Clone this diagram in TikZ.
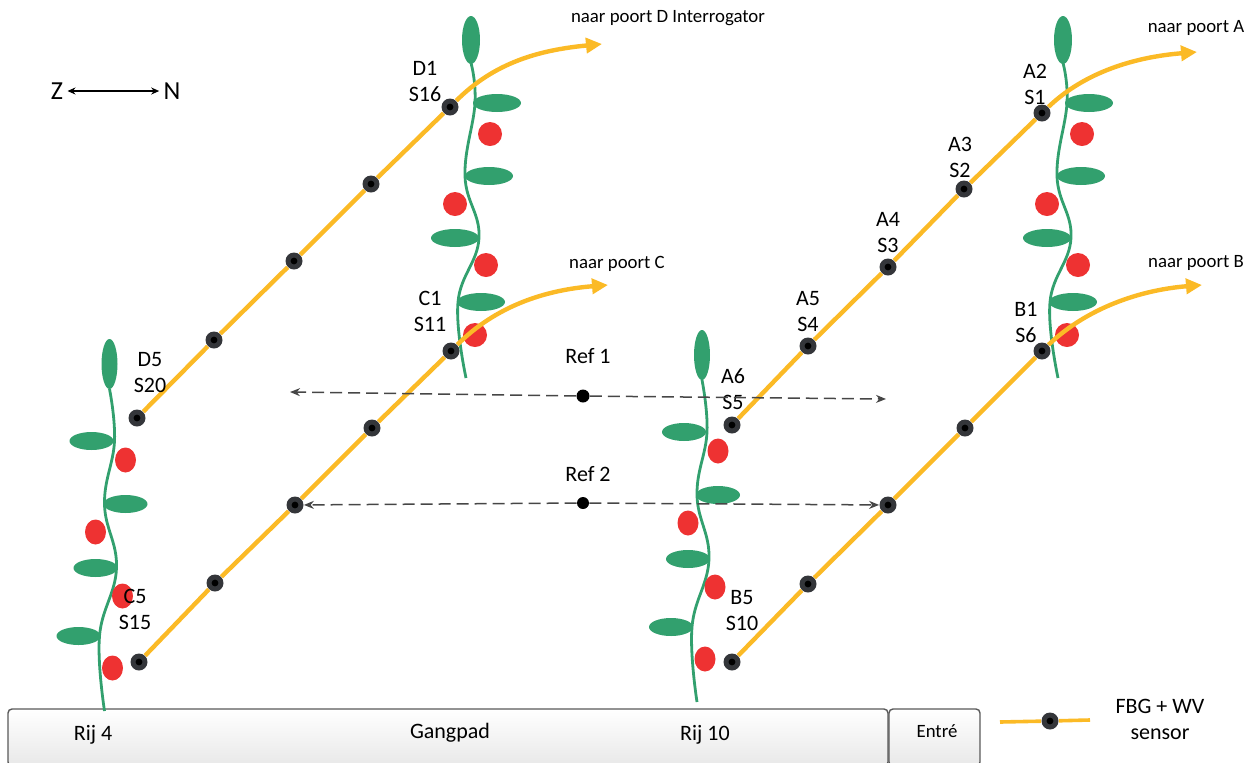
\documentclass[tikz,border=0pt]{standalone}
\usepackage{fontspec}
\setmainfont{Carlito}
\usetikzlibrary{arrows.meta, positioning}
\definecolor{fiberOrange}{RGB}{251,186,38}
\definecolor{leafGreen}{RGB}{50,160,110}
\definecolor{berryRed}{RGB}{238,50,50}
\definecolor{sensorGray}{RGB}{52,54,58}
\definecolor{refGray}{RGB}{70,70,70}

\tikzset{
	stem/.style={draw=leafGreen, line width=1.4pt},
	leaf/.style={fill=leafGreen},
	berry/.style={fill=berryRed},
	% plant in the upper rows
	plantTop/.pic={
		\draw[stem] plot[smooth, tension=0.7] coordinates
			{(0,23) (4,63) (-6,136) (8,198) (-13,262) (-5,338)};
		\fill[leaf] (0,0) ellipse [x radius=9, y radius=24];
		\fill[leaf] (26,63) ellipse [x radius=24, y radius=9];
		\fill[berry] (19,94) circle [radius=12];
		\fill[leaf] (18,136) ellipse [x radius=24, y radius=9];
		\fill[berry] (-16,164) circle [radius=12];
		\fill[leaf] (-16,198) ellipse [x radius=24, y radius=9];
		\fill[berry] (15,225) circle [radius=12];
		\fill[leaf] (10,262) ellipse [x radius=24, y radius=9];
		\fill[berry] (4,295) circle [radius=12];
	},
	% plant standing on the path
	plantLow/.pic={
		\draw[stem] plot[smooth, tension=0.7] coordinates
			{(0,25) (5,77) (-5,140) (7,204) (-10,272) (-5,347)};
		\fill[leaf] (0,0) ellipse [x radius=8, y radius=25];
		\fill[leaf] (-18,77) ellipse [x radius=22, y radius=9];
		\fill[berry] (16,96) ellipse [x radius=10.5, y radius=12.5];
		\fill[leaf] (16,140) ellipse [x radius=22, y radius=9];
		\fill[berry] (-14,168) ellipse [x radius=10.5, y radius=12.5];
		\fill[leaf] (-14,204) ellipse [x radius=22, y radius=9];
		\fill[berry] (13,232) ellipse [x radius=10.5, y radius=12.5];
		\fill[leaf] (-31,272) ellipse [x radius=22, y radius=9];
		\fill[berry] (3,304) ellipse [x radius=10.5, y radius=12.5];
	}
}

\begin{document}
\begin{tikzpicture}
	[
		x=0.5pt, y=-0.5pt,
		sensor/.style={
			circle, fill=sensorGray, inner sep=0pt, minimum size=8.5pt,
			path picture={\fill[black] (path picture bounding box.center) circle (1.7pt);}
		},
		fiber/.style={draw=fiberOrange, line width=2.2pt},
		toport/.style={fiber, -{Triangle[length=8pt, width=7.5pt]}},
		lbl/.style={align=center, font=\fontsize{11}{13}\selectfont},
		small/.style={font=\fontsize{9.4}{11}\selectfont},
		refdot/.style={circle, fill=black, inner sep=0pt, minimum size=#1},
		refline/.style={draw=refGray, line width=0.75pt, dash pattern=on 6pt off 3pt,
			-{Stealth[length=5pt, width=4pt]}},
		floor/.style={draw=gray!70!black, line width=0.7pt, rounded corners=2pt,
			top color=white, bottom color=gray!18}
	]

\useasboundingbox (0,0) rectangle (1260,762);

% Path and entrance
\draw[floor] (8,709) rectangle (888,766);
\draw[floor] (889,709) rectangle (980,766);
\node (rij4) [lbl] at (93,735) {Rij 4};
\node (gangpad) [lbl] at (450,733) {Gangpad};
\node (rij10) [lbl] at (705,735) {Rij 10};
\node (entre) [small] at (937,731) {Entré};

% Plants
\pic at (109.5,364) {plantLow};
\pic at (702,355) {plantLow};
\pic at (471,40) {plantTop};
\pic at (1063,40) {plantTop};

% Compass
\node (z) [font=\fontsize{13}{15}\selectfont, inner sep=2pt] at (57,91) {Z};
\node (n) [font=\fontsize{13}{15}\selectfont, inner sep=2pt] at (172,91) {N};
\draw [{Stealth[length=4pt, width=3.5pt]}-{Stealth[length=4pt, width=3.5pt]}, line width=1.4pt]
	(z) -- (n);

% Sensors, row D
\node (d1) [sensor] at (450,107) {};
\node (d2) [sensor] at (371,184) {};
\node (d3) [sensor] at (294,261) {};
\node (d4) [sensor] at (214,340) {};
\node (d5) [sensor] at (137,418) {};
% Sensors, row C
\node (c1) [sensor] at (451,351) {};
\node (c2) [sensor] at (372,428) {};
\node (c3) [sensor] at (295,505) {};
\node (c4) [sensor] at (215,583) {};
\node (c5) [sensor] at (139,662) {};
% Sensors, row A
\node (a2) [sensor] at (1042,113) {};
\node (a3) [sensor] at (964,189) {};
\node (a4) [sensor] at (888,267) {};
\node (a5) [sensor] at (808,346) {};
\node (a6) [sensor] at (732,425) {};
% Sensors, row B
\node (b1) [sensor] at (1042,351) {};
\node (b2) [sensor] at (965,428) {};
\node (b3) [sensor] at (888,505) {};
\node (b4) [sensor] at (808,584) {};
\node (b5) [sensor] at (732,662) {};

% Fiber ends
\coordinate (toD) at (602,44);
\coordinate (toC) at (608,285);
\coordinate (toA) at (1197,52);
\coordinate (toB) at (1202,285);

% Fibers
\draw [toport] (d5) -- (d4) -- (d3) -- (d2) -- (d1)
	.. controls (495,62) and (540,50) .. (toD);
\draw [toport] (c5) -- (c4) -- (c3) -- (c2) -- (c1)
	.. controls (496,306) and (545,290) .. (toC);
\draw [toport] (a6) -- (a5) -- (a4) -- (a3) -- (a2)
	.. controls (1085,72) and (1135,57) .. (toA);
\draw [toport] (b5) -- (b4) -- (b3) -- (b2) -- (b1)
	.. controls (1087,308) and (1140,290) .. (toB);

\node (portD) [small] at (668,18) {naar poort D Interrogator};
\node (portC) [small] at (617,264) {naar poort C};
\node (portA) [small] at (1196,28) {naar poort A};
\node (portB) [small] at (1196,263) {naar poort B};

% Sensor labels
\node (ld1) [lbl] at (425,81) {D1\\S16};
\node (ld5) [lbl] at (150,373) {D5\\S20};
\node (lc1) [lbl] at (430,311) {C1\\S11};
\node (lc5) [lbl] at (135,609) {C5\\S15};
\node (la2) [lbl] at (1035,84) {A2\\S1};
\node (la3) [lbl] at (960,157) {A3\\S2};
\node (la4) [lbl] at (888,233) {A4\\S3};
\node (la5) [lbl] at (808,312) {A5\\S4};
\node (la6) [lbl] at (733,389) {A6\\S5};
\node (lb1) [lbl] at (1026,322) {B1\\S6};
\node (lb5) [lbl] at (742,611) {B5\\S10};

% Reference sensors
\node (ref1) [refdot=6.5pt] at (583,396) {};
\node (ref2) [refdot=6pt] at (583,503) {};
\node (lref1) [lbl] at (588,356) {Ref 1};
\node (lref2) [lbl] at (588,474) {Ref 2};
\coordinate (r1w) at (290,392);
\coordinate (r1e) at (886,399);
\draw [refline] (ref1) -- (r1w);
\draw [refline] (ref1) -- (r1e);
\draw [refline] (ref2) -- (c3);
\draw [refline] (ref2) -- (b3);

% Legend
\coordinate (legw) at (1000,722);
\coordinate (lege) at (1090,720);
\node (leg) [sensor] at (1050,721) {};
\draw [fiber, line width=1.8pt] (legw) -- (leg) -- (lege);
\node (legtxt) [lbl] at (1160,719) {FBG + WV\\sensor};

\end{tikzpicture}
\end{document}
